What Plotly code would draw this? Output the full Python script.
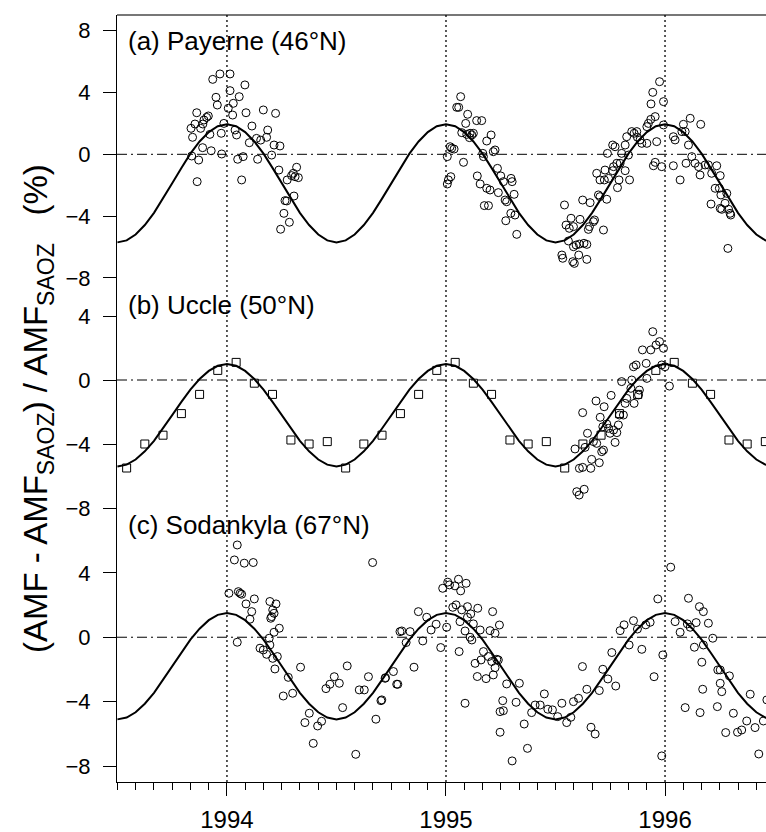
import plotly.graph_objects as go

# ---------------- data ----------------
# Panel (a) Payerne circles
pay_x = [1993.836,1993.843,1993.854,1993.862,1993.839,1993.871,1993.864,1993.880,1993.890,1993.895,
         1993.907,1993.915,1993.889,1993.922,1993.928,1993.935,1993.950,1993.956,1993.968,1993.974,
         1993.976,1993.986,1994.006,1994.014,1994.014,1994.026,1994.029,1994.037,1994.044,1994.049,
         1994.056,1994.067,1994.074,1994.082,1994.087,1994.102,1994.114,1994.140,1994.135,1994.154,
         1994.166,1994.181,1994.186,1994.215,1994.222,1994.204,1994.242,1994.237,1994.275,1994.295,
         1994.318,1994.303,1994.311,1994.326,1994.306,1994.265,1994.273,1994.260,1994.285,1994.245,
         1995.067,1995.049,1995.058,1995.006,1995.026,1995.037,1995.019,1995.022,1995.011,1995.006,
         1995.080,1995.099,1995.090,1995.072,1995.095,1995.110,1995.118,1995.125,1995.107,1995.140,
         1995.163,1995.143,1995.156,1995.168,1995.171,1995.186,1995.201,1995.175,1995.194,1995.186,
         1995.206,1995.224,1995.216,1995.235,1995.250,1995.262,1995.239,1995.270,1995.277,1995.297,
         1995.302,1995.311,1995.296,1995.315,1995.273,1995.323,1995.541,1995.571,1995.548,1995.563,
         1995.582,1995.612,1995.624,1995.658,1995.673,1995.678,1995.655,1995.650,1995.559,1995.582,
         1995.594,1995.609,1995.630,1995.643,1995.529,1995.533,1995.579,1995.606,1995.643,1995.586,
         1995.719,1995.688,1995.703,1995.723,1995.726,1995.742,1995.737,1995.761,1995.772,1995.780,
         1995.795,1995.783,1995.790,1995.838,1995.802,1995.818,1995.825,1995.833,1995.696,1995.703,
         1995.734,1995.761,1995.818,1995.765,1995.848,1995.859,1995.871,1995.874,1995.886,1995.917,
         1995.924,1995.935,1995.955,1995.894,1995.917,1995.962,1995.936,1995.944,1995.975,1995.993,
         1995.993,1995.955,1995.947,1995.985,1996.038,1996.046,1996.038,1996.069,1996.084,1996.077,
         1996.115,1996.163,1996.092,1996.107,1996.122,1996.096,1996.137,1996.153,1996.160,1996.183,
         1996.198,1996.236,1996.213,1996.252,1996.229,1996.248,1996.255,1996.282,1996.210,1996.252,
         1996.259,1996.274,1996.290,1996.297,1996.300,1996.287]
pay_y = [1.68,1.10,1.96,2.69,-0.11,-0.37,-1.77,1.68,1.96,2.22,
         2.39,2.48,0.43,1.29,0.23,4.85,3.69,3.19,5.20,1.36,
         0.02,2.00,2.98,5.20,4.12,2.54,3.30,1.57,1.25,-0.32,
         3.73,-1.66,-0.15,4.49,2.69,0.75,1.83,-0.32,1.03,0.92,
         2.87,1.10,1.57,0.60,2.65,-0.05,0.54,-1.02,-1.66,-1.38,
         -0.84,-1.23,-1.45,-1.51,-2.70,-3.00,-3.02,-3.82,-4.40,-4.85,
         3.73,3.04,3.04,-0.15,0.39,0.34,0.49,-1.45,-1.66,-1.92,
         -0.52,2.59,2.00,1.40,1.29,1.36,1.25,1.36,1.08,2.18,
         2.18,-1.40,-1.92,0.06,-0.15,-2.20,-2.31,-3.32,-3.32,0.86,
         1.25,0.28,0.17,-0.91,-1.40,-1.77,-2.48,-2.96,-3.07,-1.56,
         -1.77,-2.59,-3.82,-3.93,-4.30,-5.18,-3.28,-4.14,-4.58,-4.79,
         -4.68,-4.21,-2.96,-3.13,-4.36,-4.25,-4.68,-4.86,-5.61,-5.98,
         -5.87,-5.81,-5.76,-5.83,-6.52,-6.73,-6.95,-6.52,-6.80,-7.06,
         -4.90,-1.23,-1.66,-1.66,-1.02,-1.56,0.06,0.60,0.49,-0.58,
         -0.58,-2.16,-1.66,-1.66,0.06,0.60,1.14,-0.05,-2.63,-2.74,
         -2.91,-1.06,-1.06,-0.80,1.47,1.36,1.47,1.10,0.93,1.79,
         2.00,2.26,2.44,0.71,0.71,0.82,3.26,4.01,4.70,3.41,
         1.90,-0.52,-0.74,-0.80,1.14,0.93,-0.74,-1.66,1.94,1.47,
         2.33,1.94,1.47,0.60,-0.15,-0.58,-0.58,-0.80,-1.34,-0.69,
         -0.69,-0.74,-1.23,-1.38,-2.20,-2.20,-2.63,-2.53,-3.22,-3.50,
         -3.56,-3.17,-3.56,-3.82,-3.93,-6.09]

# Panel (b) Uccle squares (monthly) and circles
uccle_sq_x = [1993.542,1993.625,1993.708,1993.792,1993.875,1993.958,1994.042,1994.125,1994.208,1994.292,1994.375,1994.458,
              1994.542,1994.625,1994.708,1994.792,1994.875,1994.958,1995.042,1995.125,1995.208,1995.292,1995.375,1995.458,
              1995.542,1995.625,1995.708,1995.792,1995.875,1995.958,1996.042,1996.125,1996.208,1996.292,1996.375,1996.458]
uccle_sq_y = [-5.5,-4.0,-3.45,-2.1,-0.9,0.6,1.1,-0.2,-0.9,-3.75,-4.0,-3.85,
              -5.5,-4.0,-3.45,-2.1,-0.9,0.6,1.1,-0.2,-0.9,-3.75,-4.0,-3.85,
              -5.5,-4.0,-3.45,-2.1,-0.9,0.6,1.1,-0.2,-0.9,-3.75,-4.0,-3.85]
uccle_x = [1995.624,1995.589,1995.609,1995.624,1995.661,1995.597,1995.608,1995.631,1995.646,1995.635,
           1995.673,1995.688,1995.665,1995.700,1995.711,1995.719,1995.685,1995.722,1995.754,1995.704,
           1995.716,1995.734,1995.742,1995.749,1995.765,1995.772,1995.780,1995.787,1995.792,1995.802,
           1995.810,1995.818,1995.825,1995.844,1995.859,1995.848,1995.856,1995.868,1995.883,1995.879,
           1995.914,1995.897,1995.917,1995.935,1995.944,1995.959,1995.975,1995.993,1995.985,1996.000,
           1996.020]
uccle_y = [-2.04,-4.31,-5.52,-5.46,-5.52,-6.98,-7.19,-6.83,-3.33,-4.21,
           -3.85,-3.96,-4.96,-5.17,-4.48,-4.38,-1.31,-1.67,-0.96,-2.33,
           -2.92,-2.75,-3.02,-3.33,-3.13,-3.90,-3.29,-2.81,-2.19,-0.10,
           -2.19,-1.46,-1.15,-0.52,-1.46,0.00,0.83,0.94,-0.63,-0.94,
           1.04,1.88,0.10,1.88,3.02,2.19,2.40,1.98,0.94,0.83,
           -0.38]

# Panel (c) Sodankyla circles
sod_x = [1994.047,1994.034,1994.079,1994.120,1994.009,1994.052,1994.060,1994.067,1994.087,1994.125,
         1994.113,1994.105,1994.196,1994.224,1994.209,1994.204,1994.200,1994.215,1994.239,1994.215,
         1994.047,1994.151,1994.166,1994.181,1994.193,1994.196,1994.209,1994.230,1994.219,1994.280,
         1994.257,1994.300,1994.336,1994.356,1994.376,1994.414,1994.432,1994.394,1994.452,1994.470,
         1994.490,1994.513,1994.528,1994.549,1994.588,1994.604,1994.627,1994.646,1994.665,1994.680,
         1994.703,1994.724,1994.760,1994.775,1994.790,1994.707,1994.722,1994.780,1994.798,1994.818,
         1994.836,1994.854,1994.874,1994.894,1994.912,1994.932,1994.955,1994.976,1994.985,1995.008,
         1995.016,1995.041,1995.057,1995.067,1995.092,1995.003,1995.031,1995.046,1995.072,1995.098,
         1995.098,1995.113,1995.145,1995.064,1995.087,1995.110,1995.125,1995.118,1995.156,1995.060,
         1995.213,1995.244,1995.201,1995.224,1995.171,1995.194,1995.209,1995.232,1995.239,1995.133,
         1995.160,1995.224,1995.143,1995.183,1995.216,1995.277,1995.335,1995.087,1995.259,1995.247,
         1995.262,1995.247,1995.320,1995.357,1995.372,1995.302,1995.391,1995.407,1995.430,1995.449,
         1995.465,1995.486,1995.510,1995.529,1995.551,1995.570,1995.582,1995.605,1995.623,1995.643,
         1995.662,1995.681,1995.700,1995.716,1995.739,1995.757,1995.775,1995.795,1995.813,1995.836,
         1995.856,1995.874,1995.894,1995.912,1995.932,1995.950,1995.967,1995.990,1995.985,1996.026,
         1996.046,1996.069,1996.092,1996.107,1996.102,1996.115,1996.142,1996.134,1996.157,1996.175,
         1996.198,1996.218,1996.175,1996.168,1996.160,1996.172,1996.241,1996.252,1996.294,1996.252,
         1996.259,1996.239,1996.312,1996.277,1996.331,1996.350,1996.373,1996.389,1996.411,1996.428,
         1996.449,1996.465]
sod_y = [5.73,4.80,4.60,4.64,2.73,2.83,2.73,2.67,2.07,2.38,
         1.59,1.12,2.22,2.07,1.70,1.28,1.18,1.49,0.56,0.31,
         -0.31,-0.68,-0.79,-1.06,-0.06,-0.48,-1.31,-1.20,-1.97,-2.49,
         -3.65,-3.48,-1.86,-5.30,-4.72,-5.51,-5.22,-6.59,-3.19,-2.92,
         -2.45,-2.86,-4.37,-1.78,-7.27,-3.27,-3.27,-2.45,4.64,-5.09,
         -3.94,-2.51,-2.13,-2.92,0.35,-3.89,-2.55,-2.92,0.39,-0.33,
         0.35,-1.86,1.59,-0.23,1.24,0.45,0.81,-0.64,3.04,3.42,
         3.25,3.19,3.60,2.88,3.35,0.62,1.86,2.01,1.70,1.90,
         1.24,1.45,1.80,0.97,0.39,0.00,0.83,-0.17,0.45,-0.89,
         1.59,0.76,0.41,0.25,-0.89,-1.20,-1.51,-1.37,-1.41,-1.62,
         -1.41,-1.89,-2.44,-2.57,-2.34,-2.90,-2.86,-4.10,-3.94,-4.62,
         -4.56,-5.90,-4.04,-5.39,-6.90,-7.68,-4.68,-4.21,-4.21,-3.52,
         -4.47,-4.51,-4.93,-4.10,-5.30,-4.97,-4.00,-3.79,-1.82,-3.23,
         -5.59,-6.01,-3.31,-1.99,-2.59,-0.95,-3.03,0.41,0.77,-0.48,
         1.03,0.51,-0.75,0.77,0.93,-2.45,2.38,-1.10,-7.37,4.35,
         0.97,0.31,-4.37,2.42,0.83,0.62,0.91,-0.62,1.90,1.59,
         0.87,-0.06,-0.48,-1.55,-4.68,-3.23,-2.03,-2.03,-2.40,-2.86,
         -3.38,-4.31,-4.72,-5.92,-5.90,-5.76,-5.20,-3.54,-5.61,-7.25,
         -5.20,-3.89]

# Seasonal fit curves, read every half month from 1993.5 to 1996.5
fit_x = [1993.500,1993.542,1993.583,1993.625,1993.667,1993.708,1993.750,1993.792,1993.833,1993.875,1993.917,1993.958,
         1994.000,1994.042,1994.083,1994.125,1994.167,1994.208,1994.250,1994.292,1994.333,1994.375,1994.417,1994.458,
         1994.500,1994.542,1994.583,1994.625,1994.667,1994.708,1994.750,1994.792,1994.833,1994.875,1994.917,1994.958,
         1995.000,1995.042,1995.083,1995.125,1995.167,1995.208,1995.250,1995.292,1995.333,1995.375,1995.417,1995.458,
         1995.500,1995.542,1995.583,1995.625,1995.667,1995.708,1995.750,1995.792,1995.833,1995.875,1995.917,1995.958,
         1996.000,1996.042,1996.083,1996.125,1996.167,1996.208,1996.250,1996.292,1996.333,1996.375,1996.417,1996.458,
         1996.500]
fit_a = [-5.70,-5.57,-5.19,-4.58,-3.79,-2.87,-1.88,-0.88,0.04,0.83,1.44,1.82,
         1.95,1.82,1.44,0.83,0.04,-0.88,-1.88,-2.87,-3.79,-4.58,-5.19,-5.57,
         -5.70,-5.57,-5.19,-4.58,-3.79,-2.87,-1.88,-0.88,0.04,0.83,1.44,1.82,
         1.95,1.82,1.44,0.83,0.04,-0.88,-1.88,-2.87,-3.79,-4.58,-5.19,-5.57,
         -5.70,-5.57,-5.19,-4.58,-3.79,-2.87,-1.88,-0.88,0.04,0.83,1.44,1.82,
         1.95,1.82,1.44,0.83,0.04,-0.88,-1.88,-2.87,-3.79,-4.58,-5.19,-5.57,
         -5.70]
fit_b = [-5.40,-5.29,-4.97,-4.46,-3.80,-3.03,-2.20,-1.37,-0.60,0.06,0.57,0.89,
         1.00,0.89,0.57,0.06,-0.60,-1.37,-2.20,-3.03,-3.80,-4.46,-4.97,-5.29,
         -5.40,-5.29,-4.97,-4.46,-3.80,-3.03,-2.20,-1.37,-0.60,0.06,0.57,0.89,
         1.00,0.89,0.57,0.06,-0.60,-1.37,-2.20,-3.03,-3.80,-4.46,-4.97,-5.29,
         -5.40,-5.29,-4.97,-4.46,-3.80,-3.03,-2.20,-1.37,-0.60,0.06,0.57,0.89,
         1.00,0.89,0.57,0.06,-0.60,-1.37,-2.20,-3.03,-3.80,-4.46,-4.97,-5.29,
         -5.40]
fit_c = [-5.10,-4.99,-4.66,-4.13,-3.45,-2.65,-1.80,-0.95,-0.15,0.53,1.06,1.39,
         1.50,1.39,1.06,0.53,-0.15,-0.95,-1.80,-2.65,-3.45,-4.13,-4.66,-4.99,
         -5.10,-4.99,-4.66,-4.13,-3.45,-2.65,-1.80,-0.95,-0.15,0.53,1.06,1.39,
         1.50,1.39,1.06,0.53,-0.15,-0.95,-1.80,-2.65,-3.45,-4.13,-4.66,-4.99,
         -5.10,-4.99,-4.66,-4.13,-3.45,-2.65,-1.80,-0.95,-0.15,0.53,1.06,1.39,
         1.50,1.39,1.06,0.53,-0.15,-0.95,-1.80,-2.65,-3.45,-4.13,-4.66,-4.99,
         -5.10]

year_ticks = [1994, 1995, 1996]
panel_labels = ["(a) Payerne (46°N)", "(b) Uccle (50°N)", "(c) Sodankyla (67°N)"]

# ---------------- figure ----------------
FONT = "Liberation Sans, Arial, sans-serif"
circ = dict(symbol="circle-open", size=8, color="black", line=dict(width=1, color="black"))
sq = dict(symbol="square-open", size=8, color="black", line=dict(width=1, color="black"))
curve = dict(color="black", width=2)

fig = go.Figure()
fig.add_trace(go.Scatter(x=fit_x, y=fit_a, mode="lines", line=curve, xaxis="x", yaxis="y"))
fig.add_trace(go.Scatter(x=pay_x, y=pay_y, mode="markers", marker=circ, xaxis="x", yaxis="y"))
fig.add_trace(go.Scatter(x=fit_x, y=fit_b, mode="lines", line=curve, xaxis="x", yaxis="y2"))
fig.add_trace(go.Scatter(x=uccle_sq_x, y=uccle_sq_y, mode="markers", marker=sq, xaxis="x", yaxis="y2"))
fig.add_trace(go.Scatter(x=uccle_x, y=uccle_y, mode="markers", marker=circ, xaxis="x", yaxis="y2"))
fig.add_trace(go.Scatter(x=fit_x, y=fit_c, mode="lines", line=curve, xaxis="x", yaxis="y3"))
fig.add_trace(go.Scatter(x=sod_x, y=sod_y, mode="markers", marker=circ, xaxis="x", yaxis="y3"))

TOP, BOT = 15, 782
H = BOT - TOP
def py2paper(py):
    return (BOT - py) / H

yax_common = dict(showline=True, linecolor="black", linewidth=1, ticks="outside", ticklen=13,
                  tickwidth=1, tickcolor="black", showgrid=False, zeroline=False, anchor="x",
                  tickfont=dict(family=FONT, size=22, color="black"), ticklabelstandoff=8)

fig.update_layout(
    width=766, height=832,
    margin=dict(l=117, r=0, t=TOP, b=832 - BOT, autoexpand=False),
    paper_bgcolor="white", plot_bgcolor="white", showlegend=False,
    font=dict(family=FONT, color="black"),
    xaxis=dict(range=[1993.498, 1996.461], anchor="y3", showline=True, linecolor="black", linewidth=1,
               ticks="outside", ticklen=13, tickwidth=1, tickcolor="black", tickvals=year_ticks,
               ticktext=[str(v) for v in year_ticks],
               minor=dict(dtick=1/12, tick0=1994, ticks="outside", ticklen=7, tickwidth=1, tickcolor="black"),
               showgrid=False, zeroline=False, ticklabelstandoff=3,
               tickfont=dict(family=FONT, size=24, color="black")),
    yaxis=dict(domain=[py2paper(300), 1.0], range=[-9.43, 9.016], tickvals=[-8, -4, 0, 4, 8], **yax_common),
    yaxis2=dict(domain=[py2paper(530), py2paper(300)], range=[-9.375, 5.0], tickvals=[-8, -4, 0, 4], **yax_common),
    yaxis3=dict(domain=[0, py2paper(530)], range=[-8.99, 6.66], tickvals=[-8, -4, 0, 4], **yax_common),
)

shapes = []
# top frame line
shapes.append(dict(type="line", xref="paper", yref="paper", x0=0, x1=1, y0=1, y1=1,
                   line=dict(color="#777777", width=2)))
# dotted year lines
for yr in year_ticks:
    shapes.append(dict(type="line", xref="x", yref="paper", x0=yr, x1=yr, y0=0, y1=1,
                       line=dict(color="black", width=1.3, dash="2px,3px")))
# dash-dot zero lines
for ya in ["y", "y2", "y3"]:
    shapes.append(dict(type="line", xref="paper", yref=ya, x0=0, x1=1, y0=0, y1=0,
                       line=dict(color="black", width=1, dash="10px,4px,2px,4px")))
fig.update_layout(shapes=shapes)

label_py = [41, 305, 525]
annotations = []
for txt, py in zip(panel_labels, label_py):
    annotations.append(dict(text=txt, xref="paper", yref="paper", x=(126 - 117) / 649, y=py2paper(py),
                            xanchor="left", yanchor="middle", showarrow=False,
                            font=dict(family=FONT, size=26, color="black")))
annotations.append(dict(text="(AMF - AMF<sub>SAOZ</sub>) / AMF<sub>SAOZ</sub>&nbsp;&nbsp;&nbsp;(%)",
                        xref="paper", yref="paper", x=(38 - 117) / 649, y=py2paper(409),
                        xanchor="center", yanchor="middle", textangle=-90, showarrow=False,
                        font=dict(family=FONT, size=33, color="black")))
fig.update_layout(annotations=annotations)

fig.write_html("out.html")
